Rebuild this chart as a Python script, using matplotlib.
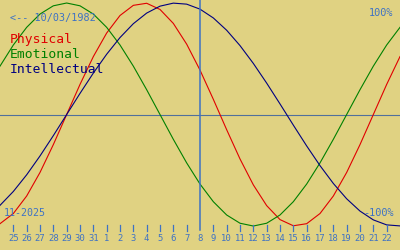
import matplotlib
matplotlib.use("Agg")
import matplotlib.pyplot as plt
import matplotlib.transforms as mtransforms

# Day index 0 = 24 Oct 2025 ... 30 = 23 Nov 2025
days = list(range(31))
day_labels = ["25", "26", "27", "28", "29", "30", "31", "1", "2", "3", "4", "5", "6", "7",
              "8", "9", "10", "11", "12", "13", "14", "15", "16", "17", "18", "19", "20", "21", "22"]
label_days = list(range(1, 30))
today = 15

physical = [-0.9791, -0.8879, -0.7308, -0.5196, -0.2698, 0.0, 0.2698, 0.5196, 0.7308, 0.8879,
            0.9791, 0.9977, 0.9423, 0.8170, 0.6311, 0.3984, 0.1362, -0.1362, -0.3984, -0.6311,
            -0.8170, -0.9423, -0.9977, -0.9791, -0.8879, -0.7308, -0.5196, -0.2698, 0.0, 0.2698,
            0.5196]
emotional = [0.4339, 0.6235, 0.7818, 0.9010, 0.9749, 1.0, 0.9749, 0.9010, 0.7818, 0.6235,
             0.4339, 0.2225, 0.0, -0.2225, -0.4339, -0.6235, -0.7818, -0.9010, -0.9749, -1.0,
             -0.9749, -0.9010, -0.7818, -0.6235, -0.4339, -0.2225, 0.0, 0.2225, 0.4339, 0.6235,
             0.7818]
intellectual = [-0.8146, -0.6901, -0.5406, -0.3717, -0.1893, 0.0, 0.1893, 0.3717, 0.5406, 0.6901,
                0.8146, 0.9096, 0.9718, 0.9989, 0.9898, 0.9450, 0.8660, 0.7557, 0.6182, 0.4582,
                0.2817, 0.0951, -0.0951, -0.2817, -0.4582, -0.6182, -0.7557, -0.8660, -0.9450, -0.9898,
                -0.9989]

BG = "#E0D282"
BLUE = "#3E72C4"
RED = "#E00000"
GREEN = "#008000"
NAVY = "#000080"
W, H = 400, 250

fig = plt.figure(figsize=(4, 2.5), dpi=100, facecolor=BG)
ax = fig.add_axes([0, 0, 1, 1])
ax.set_facecolor(BG)
ax.set_xlim(0, 30)
ax.set_ylim(-1.215, 1.027)
ax.axis("off")

ax.axhline(0, color="#50709C", lw=0.8)
ax.plot(days, physical, color=RED, lw=0.8)
ax.plot(days, emotional, color=GREEN, lw=0.8)
ax.plot(days, intellectual, color=NAVY, lw=0.8)

blend = mtransforms.blended_transform_factory(ax.transData, ax.transAxes)
ax.plot([today, today], [1.0, 1 - 230 / H], color=BLUE, lw=1.1, transform=blend, clip_on=False)
for d in label_days:
    if d != today:
        ax.plot([d, d], [1 - 225 / H, 1 - 231 / H], color=BLUE, lw=0.9, transform=blend)
for d, lab in zip(label_days, day_labels):
    ax.text(d, 1 - 240.7 / H, lab, transform=blend, ha="center", va="baseline",
            fontsize=6.4, color=BLUE, family="DejaVu Sans Mono")

def ptext(x, y, s, color, size, ha="left"):
    fig.text(x / W, 1 - y / H, s, color=color, fontsize=size, ha=ha, va="baseline",
             family="DejaVu Sans Mono")

ptext(10, 20.7, "<-- 10/03/1982", BLUE, 7.3)
ptext(393, 16, "100%", BLUE, 7.4, ha="right")
ptext(10, 42.7, "Physical", RED, 9.4)
ptext(10, 57.7, "Emotional", GREEN, 9.4)
ptext(10, 72.7, "Intellectual", NAVY, 9.4)
ptext(4, 216, "11-2025", BLUE, 7.2)
ptext(394, 216, "-100%", BLUE, 7.4, ha="right")

fig.savefig("out.png", dpi=100, facecolor=BG)
